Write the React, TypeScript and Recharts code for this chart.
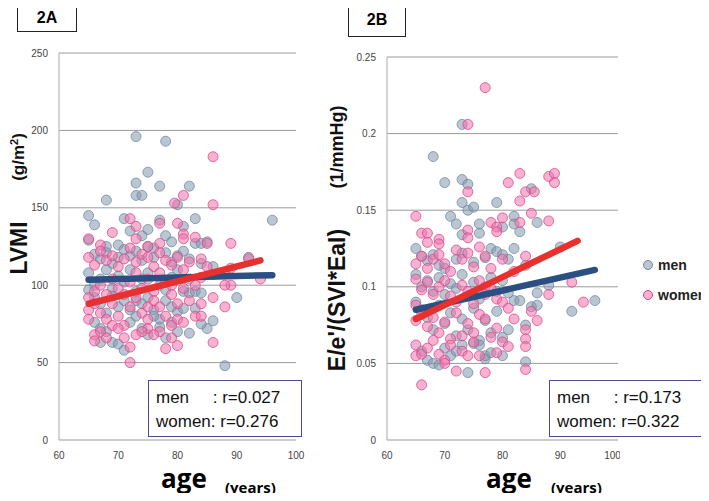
import React from 'react';
import { ScatterChart, Scatter, XAxis, YAxis, CartesianGrid } from 'recharts';

// panel 2A: LVMI (g/m2) vs age
const menA: [number, number][] = [
  [73, 196], [78, 193], [75, 173], [73, 166], [77, 164], [82, 164], [73, 158], [74, 158], [68, 155], [80, 152],
  [65, 145], [66, 139], [71, 143], [72, 135], [74, 132], [75, 136], [77, 142], [78, 132], [81, 138], [83, 143],
  [96, 142], [79, 128], [83, 127], [84, 127], [85, 128], [65, 129], [68, 125], [70, 126], [71, 123], [75, 125],
  [76, 124], [66, 120], [67, 117], [68, 121], [69, 114], [70, 118], [72, 119], [73, 122], [74, 116], [76, 118],
  [78, 121], [79, 115], [80, 119], [81, 122], [82, 117], [84, 114], [86, 112], [92, 118], [88, 108], [86, 107],
  [82, 104], [65, 108], [66, 100], [67, 104], [68, 110], [69, 98], [70, 106], [71, 102], [72, 110], [73, 96],
  [74, 104], [75, 108], [77, 100], [78, 97], [79, 105], [80, 110], [81, 96], [82, 95], [83, 96], [84, 95],
  [90, 92], [65, 97], [66, 92], [67, 88], [68, 82], [69, 93], [70, 86], [71, 90], [72, 84], [73, 80],
  [74, 88], [75, 92], [76, 84], [77, 78], [78, 90], [79, 86], [80, 83], [81, 85], [83, 85], [86, 77],
  [85, 72], [82, 69], [80, 70], [84, 75], [66, 76], [67, 72], [68, 70], [69, 63], [70, 62], [71, 58],
  [72, 76], [74, 72], [75, 68], [77, 73], [78, 66], [79, 76], [67, 63], [88, 48], [76, 80], [73, 90],
];
const womenA: [number, number][] = [
  [86, 183], [79.5, 153], [81, 158], [86, 152], [72, 143], [73, 138], [69, 134], [77, 140], [80, 140], [81, 133],
  [81, 130], [83, 131], [85, 127], [89, 127], [65, 130], [67, 126], [73, 130], [77, 127], [75, 125], [65, 118],
  [66, 113], [67, 122], [68, 116], [69, 119], [70, 112], [71, 117], [72, 124], [73, 115], [74, 120], [75, 118],
  [76, 112], [77, 121], [78, 116], [79, 113], [80, 118], [81, 110], [82, 115], [84, 117], [85, 112], [92, 117],
  [94, 104], [89, 100], [88, 100], [84, 105], [89, 111], [65, 92], [65, 84], [65, 78], [66, 96], [66, 88],
  [67, 100], [67, 82], [68, 94], [68, 78], [69, 104], [69, 88], [70, 98], [70, 80], [71, 94], [71, 74],
  [72, 102], [72, 86], [73, 108], [73, 92], [74, 98], [74, 82], [75, 104], [75, 86], [75, 72], [76, 96],
  [76, 90], [77, 108], [77, 86], [77, 70], [78, 102], [78, 80], [79, 94], [79, 74], [80, 88], [80, 78],
  [81, 98], [81, 76], [82, 90], [83, 80], [84, 88], [84, 80], [86, 92], [88, 86], [66, 68], [66, 64],
  [67, 70], [68, 66], [69, 74], [70, 72], [72, 60], [72, 50], [73, 68], [74, 70], [76, 68], [78, 59],
  [79, 66], [80, 61], [86, 63], [71, 66], [75, 78], [79, 100], [83, 100],
];
const menFitA: [number, number][] = [[65, 103.5], [96, 106.5]];
const womenFitA: [number, number][] = [[65, 88], [94, 116]];

// panel 2B: E/e'/(SVI*EaI) vs age
const menB: [number, number][] = [
  [73, 0.206], [68, 0.185], [70, 0.168], [73, 0.17], [74, 0.167], [73, 0.155], [74, 0.15], [75, 0.152], [79, 0.155], [85, 0.164],
  [71, 0.146], [72, 0.141], [76, 0.141], [82, 0.146], [82, 0.141], [83, 0.136], [86, 0.142], [80, 0.139], [76, 0.135], [73, 0.134],
  [65, 0.125], [90, 0.126], [66, 0.12], [67, 0.117], [68, 0.121], [69, 0.114], [70, 0.112], [72, 0.118], [73, 0.122], [75, 0.116],
  [77, 0.119], [78, 0.125], [79, 0.123], [80, 0.121], [81, 0.118], [82, 0.125], [84, 0.114], [65, 0.108], [66, 0.1], [67, 0.104],
  [68, 0.097], [69, 0.106], [70, 0.095], [71, 0.102], [72, 0.099], [73, 0.108], [74, 0.094], [75, 0.103], [76, 0.092], [77, 0.1],
  [78, 0.106], [79, 0.097], [80, 0.104], [81, 0.096], [82, 0.091], [83, 0.091], [85, 0.087], [86, 0.096], [86, 0.088], [88, 0.101],
  [84, 0.075], [92, 0.084], [96, 0.091], [65, 0.09], [66, 0.085], [67, 0.08], [68, 0.072], [69, 0.088], [70, 0.076], [71, 0.083],
  [72, 0.068], [73, 0.079], [74, 0.072], [75, 0.086], [76, 0.065], [77, 0.078], [78, 0.07], [79, 0.084], [80, 0.067], [81, 0.072],
  [66, 0.058], [67, 0.052], [68, 0.05], [69, 0.049], [70, 0.06], [71, 0.055], [72, 0.058], [73, 0.062], [74, 0.044], [75, 0.063],
  [76, 0.062], [77, 0.053], [77, 0.055], [80, 0.055], [84, 0.051], [78, 0.057],
];
const womenB: [number, number][] = [
  [77, 0.23], [74, 0.206], [81, 0.168], [83, 0.174], [84, 0.162], [74, 0.162], [85.5, 0.162], [83, 0.156], [88, 0.172], [89, 0.174],
  [89, 0.168], [65, 0.146], [78, 0.142], [80, 0.145], [83, 0.142], [85, 0.148], [88, 0.143], [79, 0.139], [79, 0.136], [74, 0.137],
  [74, 0.132], [66, 0.135], [67, 0.135], [67, 0.129], [69, 0.131], [69, 0.128], [65, 0.115], [66, 0.12], [67, 0.112], [68, 0.118],
  [69, 0.121], [70, 0.115], [71, 0.11], [72, 0.124], [73, 0.118], [74, 0.122], [75, 0.113], [76, 0.126], [77, 0.12], [78, 0.112],
  [80, 0.118], [82, 0.11], [84, 0.12], [65, 0.105], [66, 0.098], [67, 0.103], [68, 0.095], [69, 0.1], [70, 0.104], [71, 0.094],
  [72, 0.09], [73, 0.101], [74, 0.097], [75, 0.089], [76, 0.104], [77, 0.095], [78, 0.099], [79, 0.092], [80, 0.09], [81, 0.086],
  [92, 0.103], [94, 0.09], [88, 0.095], [85, 0.084], [82, 0.079], [86, 0.078], [65, 0.088], [65, 0.078], [66, 0.082], [67, 0.074],
  [68, 0.08], [69, 0.07], [70, 0.077], [71, 0.066], [72, 0.083], [73, 0.068], [74, 0.076], [75, 0.07], [76, 0.082], [77, 0.079],
  [78, 0.067], [79, 0.073], [80, 0.064], [84, 0.072], [84, 0.066], [65, 0.062], [65, 0.055], [66, 0.056], [67, 0.06], [68, 0.065],
  [69, 0.056], [70, 0.052], [71, 0.062], [72, 0.045], [73, 0.058], [74, 0.055], [76, 0.055], [77, 0.044], [79, 0.057], [81, 0.061],
  [84, 0.061], [84, 0.046], [66, 0.036], [70, 0.05], [75, 0.064],
];
const menFitB: [number, number][] = [[65, 0.085], [96, 0.111]];
const womenFitB: [number, number][] = [[65, 0.079], [93, 0.13]];

const ageTicks = [60, 70, 80, 90, 100];
const ticksA = [0, 50, 100, 150, 200, 250];
const ticksB = [0, 0.05, 0.1, 0.15, 0.2, 0.25];

const toPts = (arr: [number, number][]) => arr.map(([age, v]) => ({ age, v }));

const MEN = { fill: '#8298ad', stroke: '#6e879e' };
const WOMEN = { fill: '#ee72aa', stroke: '#dc4289' };

const dot = (c: { fill: string; stroke: string }) => (p: any) => (
  <circle cx={p.cx} cy={p.cy} r={5} fill={c.fill} fillOpacity={0.55} stroke={c.stroke} strokeOpacity={0.75} strokeWidth={1} />
);
const noDot = () => <g />;

const tickStyle = { fill: '#444', fontSize: 10, fontFamily: 'Liberation Sans, Arial' };

function Panel({ men, women, menFit, womenFit, yTicks, yMax, yWidth, width, marginRight, top }: any) {
  return (
    <ScatterChart width={width} height={480} margin={{ top, right: marginRight, bottom: 10, left: 0 }}>
      <CartesianGrid vertical={false} stroke="#9a9a9a" horizontalValues={yTicks} />
      <XAxis type="number" dataKey="age" domain={[60, 100]} ticks={ageTicks} axisLine={false} tickLine={false}
        tickSize={8} tickMargin={4} tick={tickStyle} height={30} />
      <YAxis type="number" dataKey="v" domain={[0, yMax]} ticks={yTicks} axisLine={{ stroke: '#aaa' }} tickLine={false}
        tickSize={8} tickMargin={3} tick={tickStyle} width={yWidth} />
      <Scatter data={toPts(men)} shape={dot(MEN)} isAnimationActive={false} />
      <Scatter data={toPts(women)} shape={dot(WOMEN)} isAnimationActive={false} />
      <Scatter data={toPts(menFit)} shape={noDot} line={{ stroke: '#2b4f80', strokeWidth: 6.5, strokeLinecap: 'round' }} isAnimationActive={false} />
      <Scatter data={toPts(womenFit)} shape={noDot} line={{ stroke: '#e8302f', strokeWidth: 6.5, strokeLinecap: 'round' }} isAnimationActive={false} />
    </ScatterChart>
  );
}

const abs = (s: React.CSSProperties): React.CSSProperties => ({ position: 'absolute', whiteSpace: 'nowrap', ...s });
const rot = (x: number, y: number, size: number, text: React.ReactNode) => (
  <div style={abs({ left: x, top: y, transform: 'translate(-50%, -50%) rotate(-90deg)', fontSize: size, fontWeight: 700, fontFamily: 'Liberation Sans, Arial', color: '#111' })}>
    {text}
  </div>
);

const rBox = (left: number, lines: string[]) => (
  <div style={abs({ left, top: 380, width: 154, height: 57, border: '1.5px solid #4b4b95', background: '#fff', fontFamily: 'Liberation Sans, Arial', fontSize: 17, color: '#111', lineHeight: '24px', padding: '5px 0 0 7px', boxSizing: 'border-box', whiteSpace: 'pre' })}>
    {lines.join('\n')}
  </div>
);

export default function App() {
  return (
    <div style={{ position: 'relative', width: 709, height: 501, margin: -8, background: '#fff', overflow: 'hidden' }}>
      <div style={abs({ left: 0, top: 0 })}>
        <Panel men={menA} women={womenA} menFit={menFitA} womenFit={womenFitA} yTicks={ticksA} yMax={250} yWidth={59} width={330} marginRight={34} top={53} />
      </div>
      <div style={abs({ left: 350, top: 0 })}>
        <Panel men={menB} women={womenB} menFit={menFitB} womenFit={womenFitB} yTicks={ticksB} yMax={0.25} yWidth={37} width={270} marginRight={2} top={57} />
      </div>

      <div style={abs({ left: 17, top: 3, width: 58, height: 27, border: '1px solid #222', textAlign: 'center', lineHeight: '27px', fontFamily: 'Liberation Sans, Arial', fontWeight: 700, fontSize: 16 })}>2A</div>
      <div style={abs({ left: 348, top: 3, width: 56, height: 32, border: '1px solid #222', textAlign: 'center', lineHeight: '32px', fontFamily: 'Liberation Sans, Arial', fontWeight: 700, fontSize: 16 })}>2B</div>

      {rot(19, 248, 23, 'LVMI')}
      {rot(18, 157, 17, <span>(g/m<sup style={{ fontSize: 11 }}>2</sup>)</span>)}
      {rot(337, 300, 23, "E/e'/(SVI*EaI)")}
      {rot(337, 147, 18, '(1/mmHg)')}

      <div style={abs({ left: 161, top: 463, fontFamily: 'Open Sans', fontWeight: 700, fontSize: 26, lineHeight: '30px' })}>age</div>
      <div style={abs({ left: 225, top: 477, fontFamily: 'Open Sans', fontWeight: 700, fontSize: 15, lineHeight: '20px' })}>(years)</div>
      <div style={abs({ left: 486, top: 463, fontFamily: 'Open Sans', fontWeight: 700, fontSize: 26, lineHeight: '30px' })}>age</div>
      <div style={abs({ left: 551, top: 477, fontFamily: 'Open Sans', fontWeight: 700, fontSize: 15, lineHeight: '20px' })}>(years)</div>

      {rBox(148, ['men     : r=0.027', 'women: r=0.276'])}
      {rBox(549, ['men     : r=0.173', 'women: r=0.322'])}

      <svg style={abs({ left: 642, top: 255 })} width={12} height={50}>
        <circle cx={6} cy={10} r={4.5} fill={MEN.fill} fillOpacity={0.55} stroke={MEN.stroke} />
        <circle cx={6} cy={40} r={4.5} fill={WOMEN.fill} fillOpacity={0.55} stroke={WOMEN.stroke} />
      </svg>
      <div style={abs({ left: 658, top: 255, fontFamily: 'Liberation Sans, Arial', fontWeight: 700, fontSize: 14, lineHeight: '20px', color: '#222' })}>men</div>
      <div style={abs({ left: 658, top: 285, fontFamily: 'Liberation Sans, Arial', fontWeight: 700, fontSize: 14, lineHeight: '20px', color: '#222' })}>women</div>
    </div>
  );
}
